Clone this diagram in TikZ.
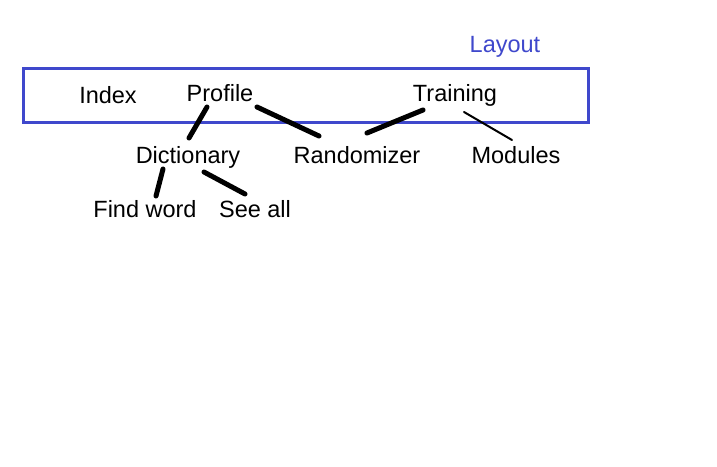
\documentclass[tikz,border=0pt]{standalone}
\usepackage{fontspec}
\setmainfont{Liberation Sans}
\definecolor{boxblue}{RGB}{63,72,204}
\tikzset{
  lbl/.style={anchor=base, inner sep=0pt, font=\fontsize{23.5}{28}\selectfont, text=black},
  conn/.style={line width=5pt, line cap=round, black},
  thinconn/.style={line width=2pt, line cap=round, black},
}
\begin{document}
\begin{tikzpicture}[x=1pt,y=-1pt]
\useasboundingbox[fill=white] (0,0) rectangle (717,466);
\node[draw=boxblue, line width=3pt, minimum width=565pt, minimum height=54pt, inner sep=0pt] (box) at (305.5,95) {};
\node[lbl, text=boxblue] (layout) at (505,52) {Layout};
\node[lbl] (index) at (108,103) {Index};
\node[lbl] (profile) at (220,101) {Profile};
\node[lbl] (training) at (455,101) {Training};
\node[lbl] (dict) at (188,163) {Dictionary};
\node[lbl] (rand) at (357,163) {Randomizer};
\node[lbl] (modules) at (516,163) {Modules};
\node[lbl] (find) at (145,217) {Find word};
\node[lbl] (seeall) at (255,217) {See all};
\draw[conn] ([shift={(-13,6)}]profile.base) -- ([shift={(1,-25)}]dict.base);
\draw[conn] ([shift={(37,6)}]profile.base) -- ([shift={(-38,-27)}]rand.base);
\draw[conn] ([shift={(-32,9)}]training.base) -- ([shift={(10,-30)}]rand.base);
\draw[thinconn] ([shift={(9,11)}]training.base) -- ([shift={(-4,-23)}]modules.base);
\draw[conn] ([shift={(-25,6)}]dict.base) -- ([shift={(11,-21)}]find.base);
\draw[conn] ([shift={(16,9)}]dict.base) -- ([shift={(-10,-23)}]seeall.base);
\end{tikzpicture}
\end{document}
